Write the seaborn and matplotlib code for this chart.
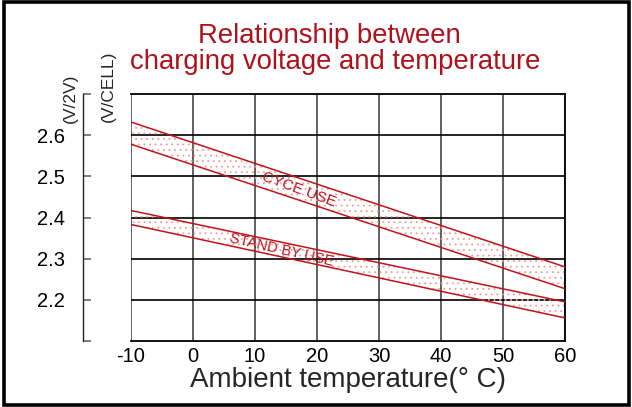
import matplotlib
matplotlib.use("Agg")
import matplotlib.pyplot as plt
import matplotlib.patches as mpatches
import seaborn as sns
import pandas as pd

# ---- data ----
temps = [-10, 60]
cycle_upper = [2.632, 2.280]
cycle_lower = [2.578, 2.227]
standby_upper = [2.417, 2.195]
standby_lower = [2.383, 2.156]

x_ticks = [-10, 0, 10, 20, 30, 40, 50, 60]
y_ticks = [2.1, 2.2, 2.3, 2.4, 2.5, 2.6, 2.7]
y_tick_labels = ["", "2.2", "2.3", "2.4", "2.5", "2.6", ""]

title_line1 = "Relationship between"
title_line2 = "charging voltage and temperature"
x_label = "Ambient temperature(° C)"
cycle_label = "CYCE USE"
standby_label = "STAND BY USE"

sns.set_style("white")
plt.rcParams["font.family"] = ["Liberation Sans", "DejaVu Sans"]
plt.rcParams["hatch.linewidth"] = 0.6

RED = "#c0141c"
TITLE_RED = "#b0101a"
HATCH = "#f29a9a"

df = pd.DataFrame({
    "temp": temps * 4,
    "volt": cycle_upper + cycle_lower + standby_upper + standby_lower,
    "line": ["cu"] * 2 + ["cl"] * 2 + ["su"] * 2 + ["sl"] * 2,
})

fig = plt.figure(figsize=(6.32, 4.07), dpi=100)
ax = fig.add_axes([131 / 632, 1 - 341 / 407, (565 - 131) / 632, (341 - 94) / 407])

# spines first (set_position resets ticks)
for s in ["top", "right", "bottom"]:
    ax.spines[s].set_color("black")
    ax.spines[s].set_linewidth(1.3)
ax.spines["left"].set_position(("outward", 34.5))
ax.spines["left"].set_color("#222222")
ax.spines["left"].set_linewidth(1.0)

# hatched bands
ax.fill_between(temps, cycle_lower, cycle_upper, facecolor="none",
                edgecolor=HATCH, hatch="...", linewidth=0, zorder=2)
ax.fill_between(temps, standby_lower, standby_upper, facecolor="none",
                edgecolor=HATCH, hatch="...", linewidth=0, zorder=2)

sns.lineplot(data=df, x="temp", y="volt", hue="line",
             palette={k: RED for k in ["cu", "cl", "su", "sl"]},
             legend=False, linewidth=1.1, ax=ax, zorder=4)

ax.set_xlim(-10, 60)
ax.set_ylim(2.1, 2.7)

# grid
for xv in x_ticks:
    ax.axvline(xv, color="#444444", linewidth=1.2, zorder=1)
for yv in y_ticks[1:-1]:
    ax.axhline(yv, color="black", linewidth=1.2, zorder=1)

ax.set_xticks(x_ticks)
ax.set_xticklabels([str(v) for v in x_ticks])
ax.set_yticks(y_ticks)
ax.set_yticklabels(y_tick_labels)

ax.tick_params(axis="x", length=0, pad=4, labelsize=14.5, labelcolor="black")
ax.tick_params(axis="y", left=True, direction="in", length=6, width=1.2,
               color="#666666", pad=13, labelsize=14.5, labelcolor="black")

ax.set_xlabel(x_label, fontsize=20, labelpad=1)
ax.set_ylabel("")

# band labels
ax.text(17.0, 2.468, cycle_label, rotation=-20, fontsize=11, color=RED,
        ha="center", va="center", zorder=5)
ax.text(14.3, 2.322, standby_label, rotation=-13, fontsize=10.5, color=RED,
        ha="center", va="center", zorder=5)

# unit labels
fig.text(70 / 632, 1 - 98 / 407, "(V/2V)", rotation=90, fontsize=12.5,
         ha="center", va="center")
fig.text(108 / 632, 1 - 86 / 407, "(V/CELL)", rotation=90, fontsize=12.5,
         ha="center", va="center")

# title
fig.text(329 / 632, 1 - 36 / 407, title_line1, fontsize=19.8, color=TITLE_RED,
         ha="center", va="center")
fig.text(335 / 632, 1 - 62 / 407, title_line2, fontsize=19.8, color=TITLE_RED,
         ha="center", va="center")

# figure border
fig.patches.append(mpatches.Rectangle((0.006, 0.004), 0.99, 0.99, transform=fig.transFigure,
                                      fill=False, edgecolor="black", linewidth=2.6))

fig.savefig("out.png", dpi=100)
